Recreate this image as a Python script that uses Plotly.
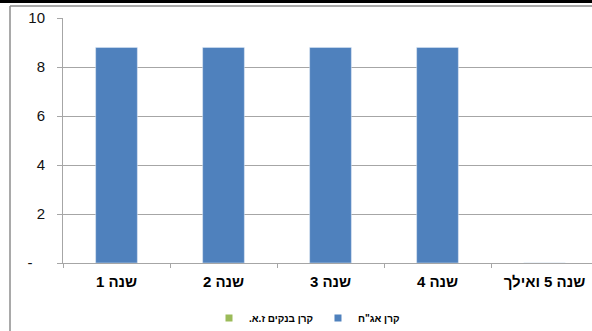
import plotly.graph_objects as go

categories = ["שנה 1", "שנה 2", "שנה 3", "שנה 4", "שנה 5 ואילך"]
bond_fund = [8.8, 8.8, 8.8, 8.8, 0]
bank_fund = [0, 0, 0, 0, 0]
series_names = ["קרן בנקים ז.א.\u200f", "קרן אג\"ח"]
y_ticks = [0, 2, 4, 6, 8, 10]
y_ticklabels = ["-\u00a0\u00a0\u00a0", "2", "4", "6", "8", "10"]

W, H = 592, 331
L, R, T, B = 63, 0, 18, 68
pw, ph = W - L - R, H - T - B
cat_px = 107.0

def px_x(x):
    return (x - L) / pw

def px_y(y):
    return (H - B - y) / ph

BLUE = "#4f81bd"
GREEN = "#9bbb59"
GRID = "#a6a6a6"
FONT = "Arial, Liberation Sans, sans-serif"

fig = go.Figure()
fig.add_trace(go.Bar(x=categories, y=bank_fund, marker_color=GREEN, width=0.39,
                     showlegend=False, name=series_names[0]))
fig.add_trace(go.Bar(x=categories, y=bond_fund, marker_color=BLUE, width=0.39,
                     showlegend=False, name=series_names[1]))
# legend entries (small squares)
fig.add_trace(go.Scatter(x=[None], y=[None], mode="markers", name=series_names[0],
                         marker=dict(symbol="square", size=7, color=GREEN)))
fig.add_trace(go.Scatter(x=[None], y=[None], mode="markers", name=series_names[1],
                         marker=dict(symbol="square", size=7, color=BLUE)))

fig.update_layout(
    width=W, height=H,
    margin=dict(l=L, r=R, t=T, b=B, autoexpand=False),
    paper_bgcolor="white", plot_bgcolor="white",
    barmode="overlay",
    font=dict(family=FONT, color="#000000"),
    legend=dict(orientation="h", x=px_x(307), xanchor="center",
                y=px_y(318), yanchor="middle",
                font=dict(size=10, family=FONT, weight="bold"),
                itemwidth=30, tracegroupgap=0),
    xaxis=dict(type="category", range=[-0.5, -0.5 + pw / cat_px],
               showline=True, linecolor=GRID, linewidth=1,
               ticks="outside", ticklen=4, tickcolor=GRID, tickson="boundaries",
               showgrid=False, zeroline=False,
               tickfont=dict(size=15, family=FONT, color="#000000", weight="bold"),
               ticklabelstandoff=5, automargin=False),
    yaxis=dict(range=[0, 10], tickvals=y_ticks, ticktext=y_ticklabels,
               showline=True, linecolor=GRID, linewidth=1,
               ticks="outside", ticklen=5, tickcolor=GRID,
               showgrid=True, gridcolor=GRID, gridwidth=1, zeroline=False,
               tickfont=dict(size=15, family=FONT, color="#111111"),
               ticklabelstandoff=9, automargin=False),
    shapes=[
        dict(type="rect", xref="paper", yref="paper",
             x0=px_x(0), x1=px_x(W), y0=px_y(3), y1=px_y(0),
             fillcolor="black", line=dict(width=0), layer="above"),
        dict(type="line", xref="paper", yref="paper",
             x0=px_x(10), x1=px_x(W), y0=px_y(6), y1=px_y(6),
             line=dict(color="#8c8c8c", width=1.5), layer="above"),
        dict(type="line", xref="paper", yref="paper",
             x0=px_x(10), x1=px_x(10), y0=px_y(6), y1=px_y(H),
             line=dict(color="#8c8c8c", width=1.5), layer="above"),
    ],
)

fig.write_html("out.html", config={"displayModeBar": False},
               post_script="document.body.style.margin='0';document.body.style.overflow='hidden';")
